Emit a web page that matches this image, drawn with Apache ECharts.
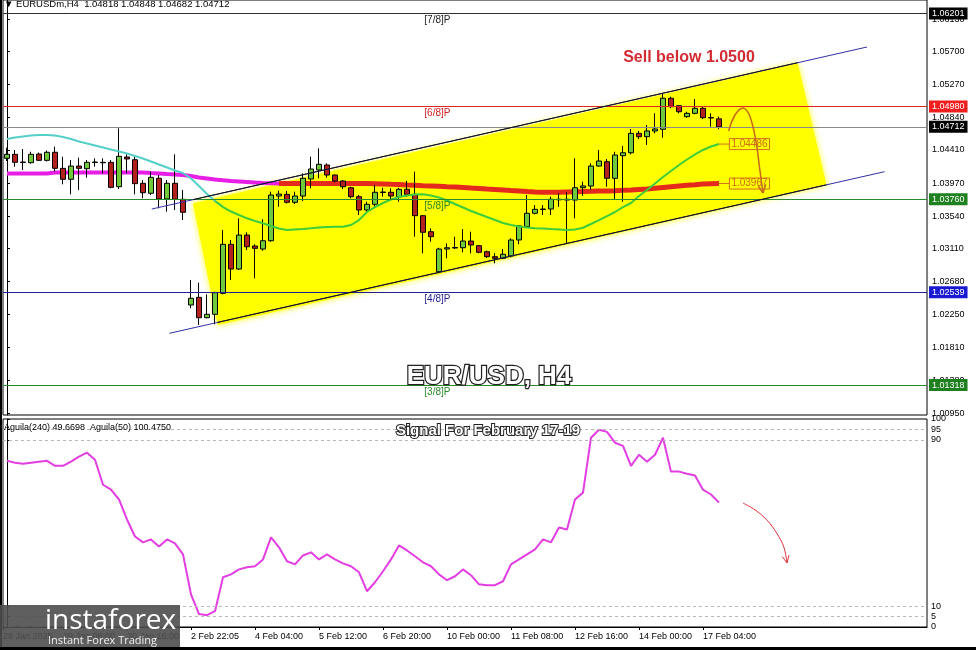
<!DOCTYPE html>
<html><head><meta charset="utf-8">
<script src="https://cdn.jsdelivr.net/npm/echarts@6/dist/echarts.min.js"></script>
<style>html,body{margin:0;padding:0;background:#fff}#c{width:976px;height:650px}</style>
</head><body><div id="c"></div>
<script>
// ---------------- DATA ----------------
const opens = [1.04299,1.04351,1.0425,1.04241,1.04355,1.04272,1.04378,1.04167,1.04023,1.04197,
1.04162,1.04243,1.04246,1.04246,1.03925,1.04316,1.0428,1.0397,1.03839,1.04036,
1.03764,1.0397,1.0376,1.0237,1.02471,1.02203,1.02248,1.02524,1.03168,1.02843,
1.0329,1.03146,1.03106,1.03215,1.03803,1.03825,1.0372,1.03803,1.04027,1.04145,
1.04211,1.04079,1.04,1.03912,1.03794,1.03619,1.03694,1.03849,1.03852,1.03794,
1.03891,1.03825,1.03544,1.03334,1.02808,1.03106,1.03119,1.03123,1.03211,1.0315,
1.03071,1.03005,1.02984,1.03014,1.03225,1.03399,1.03576,1.03632,1.03632,1.0376,
1.0376,1.0375,1.03912,1.03935,1.04197,1.04254,1.04036,1.04333,1.04372,1.04627,
1.04583,1.04658,1.0468,1.05088,1.0499,1.04846,1.0489,1.04956,1.04833,1.04818];
const closes = [1.04351,1.04246,1.04243,1.04351,1.04272,1.04378,1.04167,1.04023,1.04197,1.04167,
1.04246,1.0425,1.0424,1.03917,1.04325,1.0429,1.03965,1.03846,1.04049,1.03764,
1.0397,1.0376,1.03589,1.02458,1.02203,1.02248,1.02532,1.03168,1.02843,1.0329,
1.03136,1.03115,1.03215,1.03816,1.03829,1.0372,1.03803,1.04036,1.04158,1.0422,
1.04079,1.04,1.03925,1.03794,1.03619,1.03694,1.03852,1.03856,1.03803,1.03891,
1.03825,1.03544,1.03326,1.03268,1.03106,1.03123,1.03126,1.03211,1.03159,1.03063,
1.03005,1.02984,1.03037,1.03225,1.03409,1.03576,1.03628,1.03626,1.0376,1.03753,
1.0375,1.03912,1.03935,1.04197,1.04263,1.04036,1.04342,1.04372,1.04627,1.04583,
1.04658,1.04684,1.05088,1.04977,1.04911,1.0489,1.04956,1.04833,1.04829,1.04712];
const highs = [1.04438,1.04408,1.04421,1.04385,1.04375,1.04401,1.04451,1.0432,1.04276,1.04307,
1.04276,1.04299,1.04299,1.04276,1.04693,1.04351,1.0432,1.04013,1.04123,1.04079,
1.04013,1.04351,1.03882,1.02699,1.02663,1.02511,1.02545,1.03356,1.03225,1.0351,
1.03326,1.03168,1.03497,1.0386,1.03873,1.03869,1.0386,1.04102,1.0432,1.0443,
1.04233,1.04086,1.04013,1.03925,1.03816,1.03728,1.03948,1.03912,1.03904,1.03912,
1.04,1.04123,1.03553,1.03378,1.03123,1.03181,1.03268,1.03369,1.03334,1.03159,
1.03086,1.0305,1.03106,1.03247,1.03422,1.03816,1.03685,1.03685,1.03794,1.03839,
1.03852,1.04299,1.03991,1.04233,1.04408,1.0429,1.04385,1.0446,1.04684,1.04658,
1.04737,1.0489,1.05153,1.05109,1.04999,1.04911,1.05078,1.04977,1.0489,1.04848];
const lows = [1.04263,1.04188,1.04145,1.04228,1.04263,1.04257,1.04123,1.03957,1.03825,1.03882,
1.04044,1.04188,1.04102,1.03904,1.03895,1.04102,1.03825,1.03773,1.03816,1.03641,
1.03597,1.03619,1.03487,1.02327,1.02107,1.02195,1.02116,1.02511,1.02699,1.0283,
1.03093,1.02721,1.03084,1.03202,1.03662,1.03704,1.03698,1.03737,1.03904,1.04036,
1.04044,1.03983,1.03895,1.03773,1.03553,1.03597,1.03662,1.03794,1.0375,1.03728,
1.03794,1.03268,1.0305,1.03202,1.02787,1.02984,1.03106,1.03063,1.0305,1.0305,
1.02988,1.02918,1.02975,1.02997,1.03168,1.03386,1.03562,1.03553,1.03553,1.03662,
1.03181,1.0351,1.03807,1.03882,1.04188,1.03925,1.0375,1.03728,1.04351,1.04552,
1.04474,1.04627,1.0457,1.04956,1.0489,1.04833,1.04877,1.04815,1.04714,1.04682];
const maFast = [1.04552,1.04572,1.04585,1.04598,1.04605,1.04605,1.04598,1.04579,1.04552,1.0452,
1.04493,1.04467,1.04441,1.04414,1.04388,1.04362,1.04329,1.04296,1.04257,1.04217,
1.04178,1.04138,1.04105,1.04033,1.03935,1.03829,1.03737,1.03658,1.03599,1.03553,
1.0351,1.03474,1.03444,1.03409,1.03376,1.03356,1.03363,1.03369,1.03378,1.03389,
1.03395,1.03399,1.03399,1.03422,1.03487,1.03593,1.03658,1.03711,1.03757,1.0379,
1.0381,1.03823,1.03825,1.0381,1.03783,1.03744,1.03698,1.03652,1.03606,1.03566,
1.03527,1.03487,1.03448,1.03422,1.03402,1.03389,1.03378,1.03376,1.03369,1.03363,
1.03356,1.03363,1.03386,1.03435,1.03487,1.0354,1.03593,1.03658,1.03711,1.03803,
1.03882,1.03967,1.04053,1.04132,1.04211,1.04283,1.04349,1.04408,1.04454,1.04486];
const maSlow = [1.04099,1.04099,1.04099,1.04099,1.04099,1.04099,1.04112,1.04112,1.04112,1.04112,
1.04112,1.04112,1.04112,1.04112,1.04112,1.04112,1.04112,1.04112,1.04105,1.04099,
1.04092,1.04086,1.04079,1.04066,1.04046,1.04033,1.0402,1.04009,1.04,1.03994,
1.03987,1.0398,1.03974,1.0397,1.03967,1.03967,1.03967,1.03967,1.03967,1.03967,
1.03967,1.03967,1.03967,1.03967,1.03967,1.03967,1.03965,1.03961,1.03957,1.03954,
1.03948,1.03944,1.03938,1.03935,1.03931,1.03925,1.03921,1.03915,1.03908,1.03902,
1.03895,1.03889,1.03882,1.03875,1.03869,1.03862,1.03856,1.03852,1.03852,1.03852,
1.03856,1.0386,1.03862,1.03865,1.03869,1.03869,1.03873,1.03878,1.03882,1.03889,
1.03895,1.03904,1.03915,1.03925,1.03935,1.03944,1.03952,1.03961,1.03965,1.03967];
const aguila = [79.9,79.0,78.5,79.0,79.5,79.9,77.5,77.5,79.5,81.9,
83.8,80.4,68.4,66.0,61.3,51.7,43.5,40.7,42.1,38.7,
42.1,40.2,34.9,15.7,6.2,5.7,7.6,23.9,25.3,27.7,
28.7,29.2,32.5,43.1,38.3,31.6,30.1,34.4,35.9,32.5,
34.9,32.5,30.6,29.2,26.3,17.2,21.5,26.8,32.5,39.2,
36.8,34.0,31.1,29.2,25.3,22.5,24.4,27.7,24.9,20.5,
20.1,20.1,22.0,30.1,32.5,34.9,37.3,42.1,40.7,47.8,
46.9,61.3,64.6,91.0,94.8,93.8,88.6,87.1,77.5,82.8,
79.5,82.8,91.0,74.7,74.7,73.7,72.8,66.0,63.7,59.8];
const timeTickIdx = [-0.5,7,15,23,31,39,47,55,63,71,79,87];
const timeTickLabels = ['28 Jan 2025','29 Jan 08:00','30 Jan 16:00','2 Feb 22:05','4 Feb 04:00','5 Feb 12:00','6 Feb 20:00','10 Feb 00:00','11 Feb 08:00','12 Feb 16:00','14 Feb 00:00','17 Feb 04:00'];
const priceTicks = [1.06130,1.05700,1.05270,1.04840,1.04410,1.03970,1.03540,1.03110,1.02680,1.02250,1.01810,1.01380,1.00950];
const oscTicks = [0,5,10,90,95,100];
const oscLevels = [5,10,90,95];
const levelValues = [1.06201,1.04980,1.03760,1.02539,1.01318];
const levelNames = ['[7/8]P','[6/8]P','[5/8]P','[4/8]P','[3/8]P'];
const currentPrice = 1.04712;
const channelUpper = [[18.1,1.03632],[107.5,1.05762]];
const channelLower = [[20.3,1.01998],[109.7,1.04123]];
const channelUpperInner = [[23.25,1.03755],[98.84,1.05556]];
const channelLowerInner = [[26.34,1.02142],[102.43,1.03950]];
const channelFill = [[23.25,1.03707],[98.84,1.05548],[102.43,1.03948],[26.34,1.02107]];
const priceArrow = [[90.2,1.04658],[91.0,1.04868],[92.0,1.0496],[92.8,1.04868],[93.6,1.04539],[94.1,1.0415],[94.5,1.03842]];
const oscArrow = [[92.0,59.6],[93.5,56.3],[95.0,51.4],[96.2,45.2],[97.1,38.5],[97.5,30.8]];
const headerText = '\u25BC EURUSDm,H4  1.04818 1.04848 1.04682 1.04712';
const oscText = 'Aguila(240) 49.6698  Aguila(50) 100.4750';

// ---------------- STYLE ----------------
const levelLineColors = ['#303030','#e02424','#2a8a2a','#1e1e96','#2a8a2a'];
const levelBoxColors = ['#000000','#f02020','#1f801f','#1a1ad2','#1f801f'];
const levelTextColors = ['#222222','#d42020','#2a8a2a','#1e1e96','#2a8a2a'];
const FONT = '"Liberation Sans", Arial, sans-serif';
const X_MAX = 115;
const LEVEL_TEXT_IDX = 53.8;
const TAG_IDX = 90.3;

const chart = echarts.init(document.getElementById('c'), null, {renderer:'canvas'});
const candleData = opens.map((o,i)=>[i,o,closes[i],lows[i],highs[i]]);
const pairs = (arr, from, to) => arr.slice(from, to).map((v,k)=>[k+from, v]);

function arrowHead(pts, len, color, lw){
  const a = pts[pts.length-2], b = pts[pts.length-1];
  const ang = Math.atan2(b[1]-a[1], b[0]-a[0]);
  const out = [];
  [-0.45, 0.45].forEach(d=>{
    out.push({type:'line', shape:{x1:b[0], y1:b[1], x2:b[0]-len*Math.cos(ang+d), y2:b[1]-len*Math.sin(ang+d)}, style:{stroke:color, lineWidth:lw}});
  });
  return out;
}

const markLevels = [{
  yAxis: currentPrice,
  lineStyle:{color:'#8a8a8a', width:1, type:'solid'},
  label:{show:true, position:'end', distance:2, formatter: currentPrice.toFixed(5), backgroundColor:'#000', color:'#fff', padding:[2,3,1,3], fontSize:9, fontFamily:FONT}
}].concat(levelValues.map((v,i)=>({
  yAxis: v,
  lineStyle:{color:levelLineColors[i], width:1, type:'solid'},
  label:{show:true, position:'end', distance:2, formatter: v.toFixed(5), backgroundColor:levelBoxColors[i], color:'#fff', padding:[2,3,1,3], fontSize:9, fontFamily:FONT}
})));

const option = {
  animation:false,
  backgroundColor:'#fff',
  grid:[
    {left:3, top:0, width:924, height:415, show:true, borderColor:'#000', borderWidth:1},
    {left:3, top:419, width:924, height:208, show:true, borderColor:'#000', borderWidth:1}
  ],
  xAxis:[
    {type:'value', gridIndex:0, min:-0.5, max:X_MAX, show:false},
    {type:'value', gridIndex:1, min:-0.5, max:X_MAX, splitLine:{show:false},
     axisLine:{show:true, lineStyle:{color:'#000'}},
     axisTick:{show:true, customValues:timeTickIdx, length:3, lineStyle:{color:'#000'}},
     axisLabel:{show:true, customValues:timeTickIdx, align:'left', margin:5, fontSize:9, fontFamily:FONT, color:'#000',
       formatter:(v)=>{const k=timeTickIdx.indexOf(v); return k>=0?timeTickLabels[k]:'';}}}
  ],
  yAxis:[
    {type:'value', gridIndex:0, position:'right', min:1.00924, max:1.0638, splitLine:{show:false},
     axisLine:{show:true, lineStyle:{color:'#000'}},
     axisTick:{show:true, customValues:priceTicks, length:3, lineStyle:{color:'#000'}},
     axisLabel:{show:true, customValues:priceTicks, margin:5, fontSize:9, fontFamily:FONT, color:'#000', formatter:v=>v.toFixed(5)}},
    {type:'value', gridIndex:1, position:'right', min:0, max:100, splitLine:{show:false},
     axisLine:{show:true, lineStyle:{color:'#000'}},
     axisTick:{show:true, customValues:oscTicks, length:3, lineStyle:{color:'#000'}},
     axisLabel:{show:true, customValues:oscTicks, margin:4, fontSize:9, fontFamily:FONT, color:'#000'}}
  ],
  series:[
    {type:'custom', name:'channelFill', xAxisIndex:0, yAxisIndex:0, z:1, silent:true,
     data:[[0, currentPrice]],
     renderItem:(params, api)=>({type:'polygon', shape:{points:channelFill.map(p=>api.coord(p))},
       style:{fill:'#ffff00', shadowBlur:6, shadowColor:'rgba(255,255,0,0.9)'}})},
    {type:'line', name:'levels', xAxisIndex:0, yAxisIndex:0, z:2, showSymbol:false, data:[],
     markLine:{symbol:['none','none'], precision:6, silent:true, animation:false, data:markLevels}},
    {type:'candlestick', name:'EURUSD', xAxisIndex:0, yAxisIndex:0, z:3, barWidth:5,
     dimensions:['idx','open','close','lowest','highest'],
     encode:{x:'idx', y:['open','close','lowest','highest']},
     data:candleData,
     itemStyle:{color:'#6fc93a', color0:'#b3211d', borderColor:'#000', borderColor0:'#000', borderWidth:1}},
    {type:'line', name:'MA slow a', xAxisIndex:0, yAxisIndex:0, z:2, showSymbol:false, data:pairs(maSlow,0,36),
     lineStyle:{color:'#e61ee6', width:4}},
    {type:'line', name:'MA slow b', xAxisIndex:0, yAxisIndex:0, z:2, showSymbol:false, data:pairs(maSlow,34,90),
     lineStyle:{color:'#e42a1c', width:5}},
    {type:'line', name:'MA fast a', xAxisIndex:0, yAxisIndex:0, z:4, showSymbol:false, data:pairs(maFast,0,28),
     lineStyle:{color:'#55d0c8', width:2}},
    {type:'line', name:'MA fast b', xAxisIndex:0, yAxisIndex:0, z:4, showSymbol:false, data:pairs(maFast,26,90),
     lineStyle:{color:'#3ccc3c', width:2}},
    {type:'custom', name:'annotations', xAxisIndex:0, yAxisIndex:0, z:6, silent:true,
     data:[[0, currentPrice]],
     renderItem:(params, api)=>{
       const ch = [];
       [channelUpper, channelLower].forEach(ln=>{
         const a = api.coord(ln[0]), b = api.coord(ln[1]);
         ch.push({type:'line', shape:{x1:a[0],y1:a[1],x2:b[0],y2:b[1]}, style:{stroke:'#3030a8', lineWidth:1}});
       });
       [channelUpperInner, channelLowerInner].forEach(ln=>{
         const a = api.coord(ln[0]), b = api.coord(ln[1]);
         ch.push({type:'line', shape:{x1:a[0],y1:a[1],x2:b[0],y2:b[1]}, style:{stroke:'#111', lineWidth:1}});
       });
       levelValues.forEach((v,i)=>{
         const c = api.coord([LEVEL_TEXT_IDX, v]);
         ch.push({type:'text', style:{text:levelNames[i], x:c[0], y:c[1]+2, fill:levelTextColors[i], font:'10px '+FONT, align:'center', verticalAlign:'top'}});
       });
       [maFast[maFast.length-1], maSlow[maSlow.length-1]].forEach(v=>{
         const s = api.coord([maFast.length-1, v]), t = api.coord([TAG_IDX, v]);
         ch.push({type:'line', shape:{x1:s[0],y1:s[1],x2:t[0],y2:t[1]}, style:{stroke:'#d2701f', lineWidth:1}});
         ch.push({type:'text', style:{text:v.toFixed(5), x:t[0], y:t[1], fill:'#cc6a1e', font:'10px '+FONT, align:'left', verticalAlign:'middle',
           borderColor:'#d2701f', borderWidth:1, padding:[1,2,0,2]}});
       });
       const pts = priceArrow.map(p=>api.coord(p));
       ch.push({type:'polyline', shape:{points:pts, smooth:0.35}, style:{stroke:'#c8661c', lineWidth:1.5, fill:null}});
       arrowHead(pts, 9, '#c8661c', 1.5).forEach(e=>ch.push(e));
       return {type:'group', children:ch};
     }},
    {type:'line', name:'Aguila', xAxisIndex:1, yAxisIndex:1, z:3, showSymbol:false, data:aguila.map((v,i)=>[i,v]),
     lineStyle:{color:'#e23ee2', width:2},
     markLine:{symbol:['none','none'], precision:3, silent:true, animation:false, label:{show:false},
       data:oscLevels.map(v=>({yAxis:v})), lineStyle:{color:'#b8b8b8', type:[3,3], width:1}}},
    {type:'custom', name:'oscArrow', xAxisIndex:1, yAxisIndex:1, z:6, silent:true,
     data:[[0,50]],
     renderItem:(params, api)=>{
       const pts = oscArrow.map(p=>api.coord(p));
       const ch = [{type:'polyline', shape:{points:pts, smooth:0.35}, style:{stroke:'#e0303a', lineWidth:1, fill:null}}];
       arrowHead(pts, 8, '#e0303a', 1).forEach(e=>ch.push(e));
       return {type:'group', children:ch};
     }}
  ],
  graphic:[
    {type:'rect', left:0, top:0, shape:{width:2, height:650}, style:{fill:'#000'}, z:50},
    {type:'rect', left:0, top:647, shape:{width:976, height:3}, style:{fill:'#000'}, z:50},
    {type:'text', x:4, y:4, style:{text:headerText, fill:'#000', font:'9.5px '+FONT, verticalAlign:'middle'}, z:50},
    {type:'text', x:4, y:428, style:{text:oscText, fill:'#000', font:'9px '+FONT, verticalAlign:'middle'}, z:50},
    {type:'text', x:689, y:58, style:{text:'Sell below 1.0500', fill:'#d22b33', font:'bold 16px '+FONT, align:'center', verticalAlign:'middle'}, z:50},
    {type:'text', x:489, y:377, style:{text:'EUR/USD, H4', fill:'#fff', stroke:'#222', lineWidth:2.5, font:'bold 26px '+FONT, align:'center', verticalAlign:'middle',
       shadowBlur:4, shadowColor:'rgba(0,0,0,0.55)', shadowOffsetX:2, shadowOffsetY:3}, z:60},
    {type:'text', x:488, y:431, style:{text:'Signal For February 17-19', fill:'#fff', stroke:'#222', lineWidth:2, font:'bold 15px '+FONT, align:'center', verticalAlign:'middle',
       shadowBlur:3, shadowColor:'rgba(0,0,0,0.5)', shadowOffsetX:1, shadowOffsetY:2}, z:60},
    {type:'rect', left:0, top:605, shape:{width:180, height:42}, style:{fill:'rgba(78,78,78,0.9)'}, z:70},
    {type:'group', x:23, y:625, z:71, children:[
      {type:'circle', shape:{cx:0, cy:0, r:12}, style:{fill:null, stroke:'#fff', lineWidth:5}},
      ...[0,1,2,3,4,5,6,7].map(k=>({type:'rect', rotation:k*Math.PI/4, shape:{x:-3, y:-19, width:6, height:7}, style:{fill:'#fff'}})),
      {type:'circle', shape:{cx:0, cy:-4, r:3}, style:{fill:'#fff'}},
      {type:'rect', shape:{x:-3, y:0, width:6, height:8}, style:{fill:'#fff'}}
    ]},
    {type:'text', x:45, y:621, z:71, style:{text:'instaforex', fill:'#fff', font:'28px "Open Sans", sans-serif', verticalAlign:'middle'}},
    {type:'text', x:48, y:641, z:71, style:{text:'Instant Forex Trading', fill:'#f0f0f0', font:'11px "Open Sans", sans-serif', verticalAlign:'middle'}}
  ]
};
chart.setOption(option);
</script>
</body></html>
